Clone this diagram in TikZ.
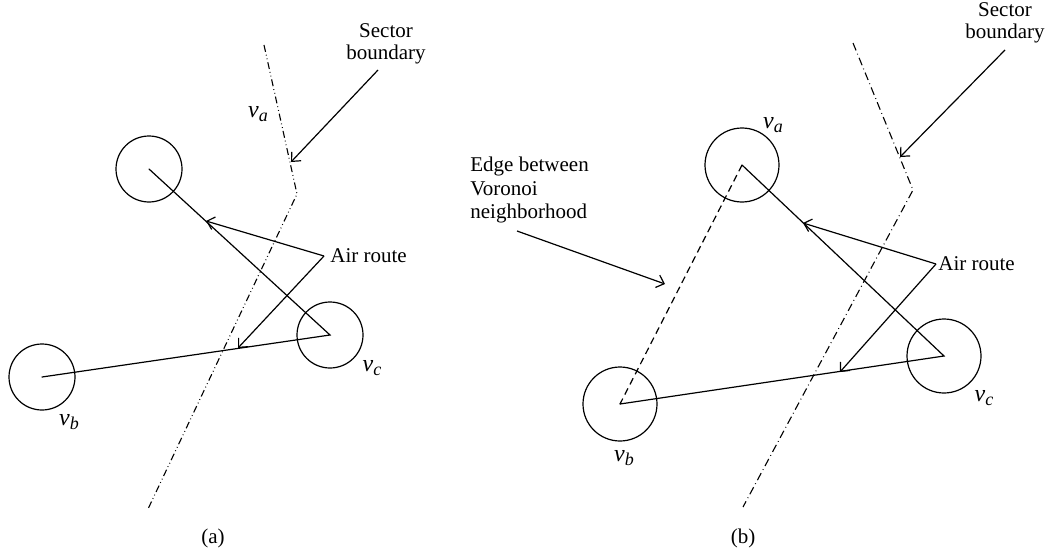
\documentclass[tikz,border=0pt]{standalone}
\usepackage{fontspec}
\setmainfont{Liberation Serif}
\usetikzlibrary{arrows.meta}
\newcommand{\vsub}[1]{v\raisebox{-0.4ex}{\fontsize{9}{9}\selectfont\itshape #1}}
\begin{document}
\begin{tikzpicture}[x=0.5pt,y=-0.5pt,
  every node/.style={font=\fontsize{10.5}{11}\selectfont, inner sep=0pt},
  line/.style={line width=0.6pt, line cap=round},
  arr/.style={line width=0.6pt, -{Straight Barb[length=3.5pt,width=6.5pt]}},
  nodeA/.style={circle, draw, line width=0.6pt, minimum size=33pt},
  nodeB/.style={circle, draw, line width=0.6pt, minimum size=37pt},
  ddot/.style={line width=0.55pt, dash pattern=on 3.5pt off 1.5pt on 0.4pt off 1.5pt on 0.4pt off 1.5pt},
  sdot/.style={line width=0.55pt, dash pattern=on 4pt off 1.8pt on 0.4pt off 1.8pt},
  vdash/.style={line width=0.6pt, dash pattern=on 3.5pt off 2.2pt},
  lbl/.style={font=\fontsize{12}{12}\selectfont\itshape}]
\useasboundingbox (0,0) rectangle (1054,556);

% ---------- panel (a) ----------
\node[align=center] (sb1) at (386,44) {Sector\\boundary};
\coordinate (sb1s) at (378,70);
\coordinate (sb1e) at (291,162);
\draw[arr] (sb1s) -- (sb1e);
\coordinate (d1a) at (264,45);
\coordinate (d1b) at (297,194);
\coordinate (d1c) at (148,509);
\draw[ddot] (d1a) -- (d1b) -- (d1c);

\node[nodeA] (a1) at (149,169) {};
\node[nodeA] (c1) at (330,335) {};
\node[nodeA] (b1) at (42,377) {};
\draw[line] (a1.center) -- (c1.center) -- (b1.center);

\node[lbl] (va1) at (258,114) {\vsub{a}};
\node[lbl] (vb1) at (69,422) {\vsub{b}};
\node[lbl] (vc1) at (372,368) {\vsub{c}};

\node[anchor=west] (ar1) at (330,256) {Air route};
\coordinate (ar1s) at (324,256);
\coordinate (ar1e1) at (206,221);
\coordinate (ar1e2) at (238,348);
\draw[arr] (ar1s) -- (ar1e1);
\draw[arr] (ar1s) -- (ar1e2);

\node (capa) at (213,538) {(a)};

% ---------- panel (b) ----------
\node[align=center] (sb2) at (1005,23) {Sector\\boundary};
\coordinate (sb2s) at (1005,50);
\coordinate (sb2e) at (900,157);
\draw[arr] (sb2s) -- (sb2e);
\coordinate (d2a) at (853,43);
\coordinate (d2b) at (913,190);
\coordinate (d2c) at (743,507);
\draw[sdot] (d2a) -- (d2b) -- (d2c);

\node[nodeB] (a2) at (742,165) {};
\node[nodeB] (c2) at (944,356) {};
\node[nodeB] (b2) at (620,404) {};
\draw[vdash] (a2.center) -- (b2.center);
\draw[line] (a2.center) -- (c2.center) -- (b2.center);

\node[lbl] (va2) at (773,125) {\vsub{a}};
\node[lbl] (vb2) at (624,458) {\vsub{b}};
\node[lbl] (vc2) at (984,398) {\vsub{c}};

\node[anchor=west] (ar2) at (938,264) {Air route};
\coordinate (ar2s) at (936,264);
\coordinate (ar2e1) at (803,223);
\coordinate (ar2e2) at (840,372);
\draw[arr] (ar2s) -- (ar2e1);
\draw[arr] (ar2s) -- (ar2e2);

\node[align=left, anchor=west, font=\fontsize{10.5}{11.8}\selectfont] (vor) at (470,190) {Edge between\\Voronoi\\neighborhood};
\coordinate (vors) at (517,231);
\coordinate (vore) at (665,284);
\draw[arr] (vors) -- (vore);

\node (capb) at (743,538) {(b)};
\end{tikzpicture}
\end{document}
